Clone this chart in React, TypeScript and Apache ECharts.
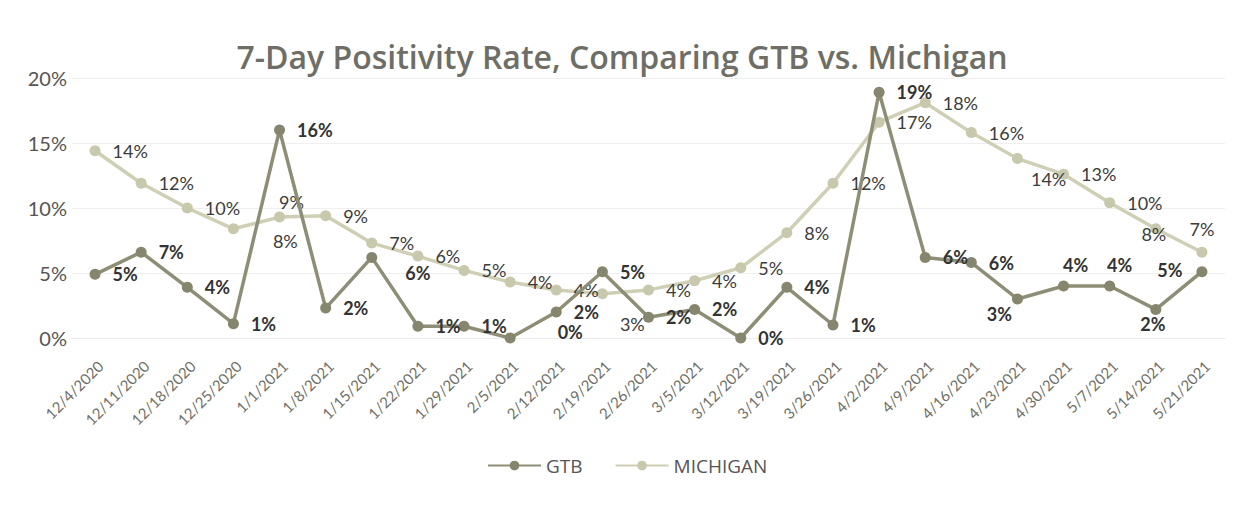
import React, { useEffect, useRef } from "react";
import * as echarts from "echarts";

const categories = [
  "12/4/2020", "12/11/2020", "12/18/2020", "12/25/2020", "1/1/2021", "1/8/2021",
  "1/15/2021", "1/22/2021", "1/29/2021", "2/5/2021", "2/12/2021", "2/19/2021",
  "2/26/2021", "3/5/2021", "3/12/2021", "3/19/2021", "3/26/2021", "4/2/2021",
  "4/9/2021", "4/16/2021", "4/23/2021", "4/30/2021", "5/7/2021", "5/14/2021", "5/21/2021",
];

const gtb = [4.9, 6.6, 3.9, 1.1, 16.0, 2.3, 6.2, 0.9, 0.9, 0.0, 2.0, 5.1, 1.6, 2.2, 0.0, 3.9, 1.0, 18.9, 6.2, 5.8, 3.0, 4.0, 4.0, 2.2, 5.1];
const michigan = [14.4, 11.9, 10.0, 8.4, 9.3, 9.4, 7.3, 6.3, 5.2, 4.3, 3.7, 3.4, 3.7, 4.4, 5.4, 8.1, 11.9, 16.6, 18.1, 15.8, 13.8, 12.6, 10.4, 8.4, 6.6];

const yTicks = [0, 5, 10, 15, 20];

// label placement tweaks (index -> label style), kept apart from the data
const gtbLabelTweaks: Record<number, any> = {
  6: { offset: [16, 16] },
  9: { offset: [30, -6] },
  20: { position: "bottom", offset: [-18, -12] },
  21: { position: "top", offset: [12, 5] },
  22: { position: "top", offset: [10, 5] },
  23: { position: "bottom", offset: [-3, -12] },
  24: { position: "left", offset: [-2, -2] },
};
const michiganLabelTweaks: Record<number, any> = {
  3: { offset: [22, 12] },
  4: { position: "top", offset: [12, 11] },
  11: { offset: [0, 30] },
  20: { offset: [-4, 20] },
  23: { position: "inside", offset: [-2, 5] },
  24: { position: "top", offset: [0, 3] },
};

const FONT = "Lato, 'Open Sans', sans-serif";
const FONT2 = "'Open Sans', Lato, sans-serif";

const pct = (v: number) => Math.round(v) + "%";

function withTweaks(values: number[], tweaks: Record<number, any>) {
  return values.map((v, i) => (tweaks[i] ? { value: v, label: tweaks[i] } : v));
}

export default function App() {
  const ref = useRef<HTMLDivElement>(null);
  useEffect(() => {
    document.body.style.margin = "0";
    const chart = echarts.init(ref.current!, null, { renderer: "svg" });
    chart.setOption({
      animation: false,
      backgroundColor: "#ffffff",
      title: {
        text: "7-Day Positivity Rate, Comparing GTB vs. Michigan",
        left: "center",
        top: 35,
        textStyle: { fontFamily: FONT2, fontSize: 32, fontWeight: 600, color: "#6e6e66" },
      },
      legend: {
        bottom: 28,
        left: 482,
        itemWidth: 53,
        itemHeight: 12,
        itemGap: 32,
        textStyle: { fontFamily: FONT2, fontSize: 19, color: "#555" },
        data: ["GTB", "MICHIGAN"],
      },
      grid: { left: 72, right: 19, top: 78, bottom: 170, containLabel: false },
      xAxis: {
        type: "category",
        data: categories,
        boundaryGap: true,
        axisLine: { lineStyle: { color: "#ebebeb" } },
        axisTick: { show: false },
        axisLabel: {
          rotate: 45,
          interval: 0,
          margin: 20,
          align: "right",
          verticalAlign: "top",
          fontFamily: FONT,
          fontSize: 15,
          color: "#6f6f66",
        },
      },
      yAxis: {
        type: "value",
        min: yTicks[0],
        max: yTicks[yTicks.length - 1],
        interval: 5,
        axisLine: { show: false },
        axisTick: { show: false },
        splitLine: { lineStyle: { color: "#efefef" } },
        axisLabel: {
          formatter: (v: number) => v + "%",
          margin: 5,
          fontFamily: FONT,
          fontSize: 20,
          color: "#555",
        },
      },
      series: [
        {
          name: "GTB",
          type: "line",
          data: withTweaks(gtb, gtbLabelTweaks),
          z: 3,
          symbol: "circle",
          symbolSize: 11,
          lineStyle: { color: "#8e8e76", width: 3.5 },
          itemStyle: { color: "#86866e" },
          label: {
            show: true,
            position: "right",
            distance: 12,
            formatter: (p: any) => pct(p.value),
            fontFamily: FONT,
            fontSize: 18,
            fontWeight: "bold",
            color: "#333",
          },
        },
        {
          name: "MICHIGAN",
          type: "line",
          data: withTweaks(michigan, michiganLabelTweaks),
          z: 2,
          symbol: "circle",
          symbolSize: 11,
          lineStyle: { color: "#cfcfb5", width: 3.5 },
          itemStyle: { color: "#c8c8ac" },
          label: {
            show: true,
            position: "right",
            distance: 12,
            formatter: (p: any) => pct(p.value),
            fontFamily: FONT,
            fontSize: 18,
            color: "#3c3c3c",
          },
        },
      ],
    });
    return () => chart.dispose();
  }, []);
  return <div ref={ref} style={{ position: "fixed", left: 0, top: 0, width: 1244, height: 508 }} />;
}
